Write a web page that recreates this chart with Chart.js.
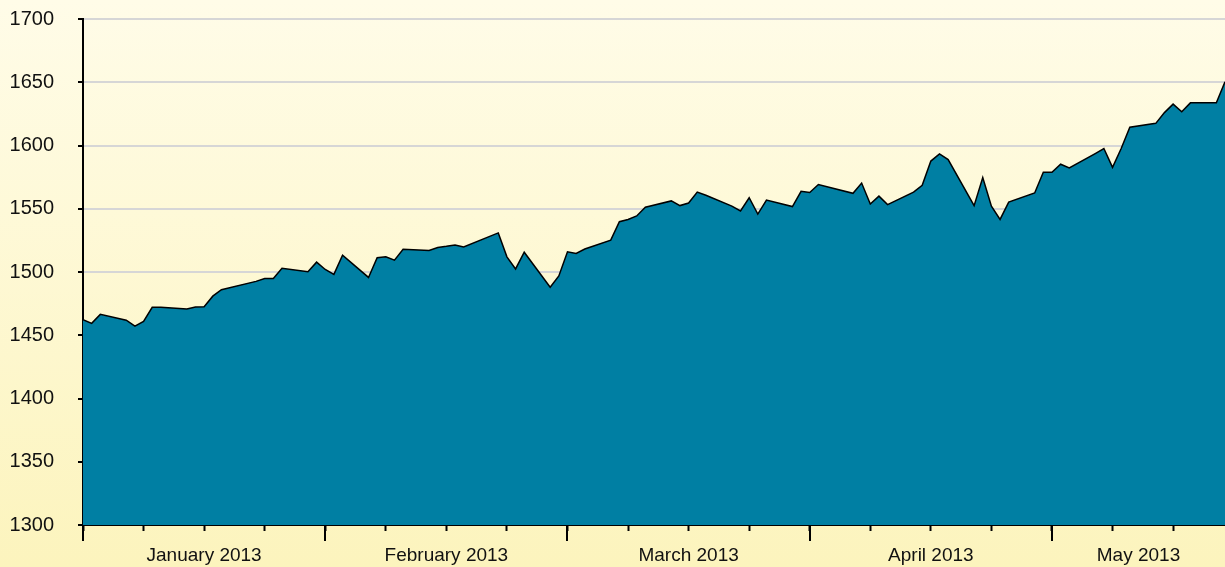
<!DOCTYPE html>
<html>
<head>
<meta charset="utf-8">
<script src="https://cdn.jsdelivr.net/npm/chart.js@4.4.1/dist/chart.umd.min.js"></script>
<style>
html, body { margin: 0; padding: 0; background: #fdf8d6; }
#wrap { position: relative; width: 1225px; height: 567px; }
</style>
</head>
<body>
<div id="wrap"><canvas id="chart"></canvas></div>
<script>
// trading days and closing values, Jan - mid May 2013
const dates = [
  '2013-01-02','2013-01-03','2013-01-04','2013-01-07','2013-01-08','2013-01-09','2013-01-10','2013-01-11',
  '2013-01-14','2013-01-15','2013-01-16','2013-01-17','2013-01-18','2013-01-22','2013-01-23','2013-01-24',
  '2013-01-25','2013-01-28','2013-01-29','2013-01-30','2013-01-31',
  '2013-02-01','2013-02-04','2013-02-05','2013-02-06','2013-02-07','2013-02-08','2013-02-11','2013-02-12',
  '2013-02-13','2013-02-14','2013-02-15','2013-02-19','2013-02-20','2013-02-21','2013-02-22','2013-02-25',
  '2013-02-26','2013-02-27','2013-02-28',
  '2013-03-01','2013-03-04','2013-03-05','2013-03-06','2013-03-07','2013-03-08','2013-03-11','2013-03-12',
  '2013-03-13','2013-03-14','2013-03-15','2013-03-18','2013-03-19','2013-03-20','2013-03-21','2013-03-22',
  '2013-03-25','2013-03-26','2013-03-27','2013-03-28',
  '2013-04-01','2013-04-02','2013-04-03','2013-04-04','2013-04-05','2013-04-08','2013-04-09','2013-04-10',
  '2013-04-11','2013-04-12','2013-04-15','2013-04-16','2013-04-17','2013-04-18','2013-04-19','2013-04-22',
  '2013-04-23','2013-04-24','2013-04-25','2013-04-26','2013-04-29','2013-04-30',
  '2013-05-01','2013-05-02','2013-05-03','2013-05-06','2013-05-07','2013-05-08','2013-05-09','2013-05-10',
  '2013-05-13','2013-05-14'
];
const closes = [
  1462.4,1459.4,1466.5,1461.9,1457.2,1461.0,1472.1,1472.1,
  1470.7,1472.3,1472.6,1480.9,1486.0,1492.6,1494.8,1494.8,
  1503.0,1500.2,1507.8,1502.0,1498.1,
  1513.2,1495.7,1511.3,1512.1,1509.4,1517.9,1517.0,1519.4,
  1520.3,1521.4,1519.8,1530.9,1512.0,1502.4,1515.6,1487.9,
  1496.9,1516.0,1514.7,
  1518.2,1525.2,1539.8,1541.5,1544.3,1551.2,1556.2,1552.5,
  1554.5,1563.2,1560.7,1552.1,1548.3,1558.7,1545.8,1556.9,
  1551.7,1563.8,1562.9,1569.2,
  1562.2,1570.3,1553.7,1560.0,1553.3,1563.1,1568.6,1587.7,
  1593.4,1588.9,1552.4,1574.6,1552.0,1541.6,1555.3,1562.5,
  1578.8,1578.8,1585.2,1582.2,1593.6,1597.6,
  1582.7,1597.6,1614.4,1617.5,1626.0,1632.7,1626.7,1633.7,
  1633.8,1650.3
];
const monthLabels = ['January 2013','February 2013','March 2013','April 2013','May 2013'];
const yTicks = [1300,1350,1400,1450,1500,1550,1600,1650,1700];

const DAY = 86400000;
const t0 = Date.parse(dates[0]);
const days = dates.map(d => Math.round((Date.parse(d) - t0) / DAY));
const lastDay = days[days.length - 1];
const WEEK = 7, PERIOD = 28;

const points = days.map((d, i) => ({x: d, y: closes[i]}));

const bgPlugin = {
  id: 'bg',
  beforeDraw(chart) {
    const ctx = chart.ctx;
    const g = ctx.createLinearGradient(0, 0, 0, chart.height);
    g.addColorStop(0, '#fffce8');
    g.addColorStop(1, '#fcf4bd');
    ctx.save();
    ctx.fillStyle = g;
    ctx.fillRect(0, 0, chart.width, chart.height);
    ctx.restore();
  }
};

const monthAxis = {
  id: 'monthAxis',
  afterDraw(chart) {
    const ctx = chart.ctx;
    const xs = chart.scales.x;
    const bottom = chart.chartArea.bottom;
    ctx.save();
    ctx.strokeStyle = '#000';
    ctx.lineWidth = 2;
    for (let d = 0; d <= lastDay; d += PERIOD) {
      const px = Math.round(xs.getPixelForValue(d));
      ctx.beginPath();
      ctx.moveTo(px, bottom);
      ctx.lineTo(px, bottom + 16);
      ctx.stroke();
    }
    ctx.fillStyle = '#111';
    ctx.font = '19px "Liberation Sans", Arial, sans-serif';
    ctx.textAlign = 'center';
    ctx.textBaseline = 'middle';
    monthLabels.forEach((lab, i) => {
      const a = xs.getPixelForValue(i * PERIOD);
      const b = xs.getPixelForValue(Math.min((i + 1) * PERIOD, lastDay));
      ctx.fillText(lab, (a + b) / 2, bottom + 31);
    });
    ctx.restore();
  }
};

new Chart(document.getElementById('chart'), {
  type: 'line',
  data: {
    datasets: [{
      data: points,
      borderColor: '#000',
      borderWidth: 1.5,
      backgroundColor: '#007fa3',
      fill: 'start',
      pointRadius: 0,
      tension: 0
    }]
  },
  options: {
    responsive: true,
    maintainAspectRatio: false,
    animation: false,
    events: [],
    layout: { padding: { top: 19, right: 0, left: 0, bottom: 0 } },
    plugins: { legend: { display: false }, tooltip: { enabled: false } },
    scales: {
      x: {
        type: 'linear',
        min: 0,
        max: lastDay,
        afterBuildTicks(scale) {
          const t = [];
          for (let d = 0; d <= lastDay; d += WEEK) t.push({value: d});
          scale.ticks = t;
        },
        afterFit(scale) {
          scale.height = 42;
          scale.paddingLeft = 0;
          scale.paddingRight = 0;
        },
        ticks: { display: false },
        grid: { drawOnChartArea: false, tickLength: 6, tickColor: '#000', tickWidth: 2 },
        border: { color: '#000', width: 2 }
      },
      y: {
        min: 1300,
        max: 1700,
        afterBuildTicks(scale) { scale.ticks = yTicks.map(v => ({value: v})); },
        afterFit(scale) {
          scale.width = 83;
          scale.paddingTop = 0;
          scale.paddingBottom = 0;
        },
        ticks: {
          color: '#111',
          padding: 24,
          font: { family: '"Liberation Sans", Arial, sans-serif', size: 20 },
          callback: v => String(v)
        },
        grid: { color: '#d6d6d6', lineWidth: 2, tickLength: 5, tickColor: '#000', tickWidth: 2 },
        border: { color: '#000', width: 2 }
      }
    }
  },
  plugins: [bgPlugin, monthAxis]
});
</script>
</body>
</html>
